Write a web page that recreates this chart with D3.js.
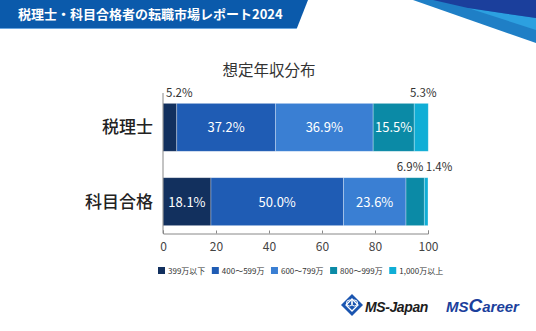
<!DOCTYPE html>
<html>
<head>
<meta charset="utf-8">
<script src="https://cdn.jsdelivr.net/npm/d3@7"></script>
<style>
  body { margin: 0; background: #fff; }
  svg { display: block; font-family: "Noto Sans CJK JP", "Noto Sans", sans-serif; }
</style>
</head>
<body>
<script>
// data
const categories = ["税理士", "科目合格"];
const bands = ["399万以下", "400〜599万", "600〜799万", "800〜999万", "1,000万以上"];
const zeirishi = [5.2, 37.2, 36.9, 15.5, 5.3];
const kamoku = [18.1, 50.0, 23.6, 6.9, 1.4];
const tickValues = [0, 20, 40, 60, 80, 100];
const colors = ["#12305e", "#1f5cb4", "#3a7fd3", "#0b8aa6", "#10aed6"];

const W = 536, H = 331;
const svg = d3.select("body").append("svg").attr("width", W).attr("height", H);

// header banner
svg.append("path")
  .attr("d", "M0,0 L308,0 L297,28 L0,28 Z")
  .attr("fill", "#0b5aab");
svg.append("path")
  .attr("d", "M0,28 L297,28 L296.6,29 L0,29 Z")
  .attr("fill", "#6aa6e0");
svg.append("text")
  .attr("x", 18).attr("y", 19)
  .attr("fill", "#fff")
  .attr("font-size", 13).attr("font-weight", 700)
  .text("税理士・科目合格者の転職市場レポート2024");

// top right decoration
svg.append("path").attr("d", "M413,0 L536,0 L536,43 Z").attr("fill", "#1f7fc6");
svg.append("path").attr("d", "M468,8 L536,18 L536,30 Z").attr("fill", "#2ca0e0");
svg.append("path").attr("d", "M433,0 L536,0 L536,18 L468,8 Z").attr("fill", "#1b3f9c");

// chart title
svg.append("text")
  .attr("x", 269).attr("y", 76)
  .attr("text-anchor", "middle")
  .attr("font-size", 15.5).attr("fill", "#333")
  .text("想定年収分布");

// scales
const x = d3.scaleLinear().domain([0, 100]).range([163, 428]);
const y = d3.scaleBand().domain(categories).range([86, 243])
  .paddingInner(0.355).paddingOuter(0.233);

const rows = [zeirishi, kamoku];

rows.forEach((vals, ri) => {
  const cat = categories[ri];
  let acc = 0;
  const segs = vals.map((v, i) => {
    const s = { v, i, x0: acc, x1: acc + v };
    acc += v;
    return s;
  });

  const g = svg.append("g");
  g.selectAll("rect").data(segs).join("rect")
    .attr("x", d => x(d.x0))
    .attr("y", y(cat))
    .attr("width", d => x(d.x1) - x(d.x0))
    .attr("height", y.bandwidth())
    .attr("fill", d => colors[d.i])
    .attr("stroke", "#fff").attr("stroke-opacity", 0.45).attr("stroke-width", 0.7);

  segs.forEach((d, k) => {
    const label = d.v.toFixed(1) + "%";
    if (d.v >= 10) {
      g.append("text")
        .attr("x", (x(d.x0) + x(d.x1)) / 2)
        .attr("y", y(cat) + y.bandwidth() / 2 + 5)
        .attr("text-anchor", "middle")
        .attr("font-size", 13).attr("fill", "#fff")
        .text(label);
    } else {
      const prevSmall = k > 0 && segs[k - 1].v < 10;
      const nextSmall = k < segs.length - 1 && segs[k + 1].v < 10;
      let tx, anchor;
      if (k === 0) { tx = x(d.x0) + 3; anchor = "start"; }
      else if (nextSmall) { tx = x(d.x1) - 1; anchor = "end"; }
      else if (prevSmall) { tx = x(d.x0) + 1.5; anchor = "start"; }
      else { tx = (x(d.x0) + x(d.x1)) / 2 + 2; anchor = "middle"; }
      g.append("text")
        .attr("x", tx)
        .attr("y", y(cat) - 6.5)
        .attr("text-anchor", anchor)
        .attr("font-size", 11.5).attr("fill", "#333")
        .text(label);
    }
  });

  // category label
  svg.append("text")
    .attr("x", 153)
    .attr("y", y(cat) + y.bandwidth() / 2 + 6)
    .attr("text-anchor", "end")
    .attr("font-size", 17).attr("font-weight", 500).attr("fill", "#222")
    .text(cat);
});

// axes
const axisY = 233.5;
svg.append("line")
  .attr("x1", x(0)).attr("x2", x(0))
  .attr("y1", 93).attr("y2", axisY)
  .attr("stroke", "#888").attr("stroke-width", 1);
const xAxis = svg.append("g")
  .attr("transform", `translate(0,${axisY})`)
  .call(d3.axisBottom(x).tickValues(tickValues).tickSize(-3).tickPadding(6));
xAxis.select(".domain").attr("stroke", "#888");
xAxis.selectAll(".tick line").attr("stroke", "#888");
xAxis.selectAll(".tick text")
  .attr("font-size", 12).attr("fill", "#444")
  .attr("font-family", "'Noto Sans CJK JP', sans-serif")
  .attr("dy", "0.95em");

// legend
const legend = svg.append("g");
let lx = 158;
bands.forEach((b, i) => {
  legend.append("rect")
    .attr("x", lx).attr("y", 267)
    .attr("width", 7).attr("height", 7)
    .attr("fill", colors[i]);
  const t = legend.append("text")
    .attr("x", lx + 10).attr("y", 274)
    .attr("font-size", 8).attr("fill", "#333")
    .text(b);
  lx += 10 + t.node().getComputedTextLength() + 6.5;
});

// logos
const logo = svg.append("g");
logo.append("path")
  .attr("d", "M352,294 L363,305 L352,316 L341,305 Z")
  .attr("fill", "#1a55b0");
logo.append("path")
  .attr("d", "M352,299 L358,305 L352,311 L346,305 Z")
  .attr("fill", "none").attr("stroke", "#fff").attr("stroke-width", 1.3);
logo.append("circle").attr("cx", 349.5).attr("cy", 303).attr("r", 3)
  .attr("fill", "none").attr("stroke", "#fff").attr("stroke-width", 1);
logo.append("circle").attr("cx", 354.5).attr("cy", 303).attr("r", 3)
  .attr("fill", "none").attr("stroke", "#fff").attr("stroke-width", 1);
logo.append("text")
  .attr("x", 365).attr("y", 312)
  .attr("font-family", "'Liberation Sans', Arial, sans-serif")
  .attr("font-size", 14).attr("font-weight", 700).attr("font-style", "italic")
  .attr("letter-spacing", -0.4)
  .attr("fill", "#1d1d1d")
  .text("MS-Japan");
const mc = logo.append("text")
  .attr("x", 446).attr("y", 312)
  .attr("font-family", "'Liberation Sans', Arial, sans-serif")
  .attr("font-weight", 700).attr("font-style", "italic")
  .attr("fill", "#1b3f9c");
mc.append("tspan").attr("font-size", 15).text("MS");
mc.append("tspan").attr("font-size", 19).text("C");
mc.append("tspan").attr("font-size", 15).text("areer");
</script>
</body>
</html>
